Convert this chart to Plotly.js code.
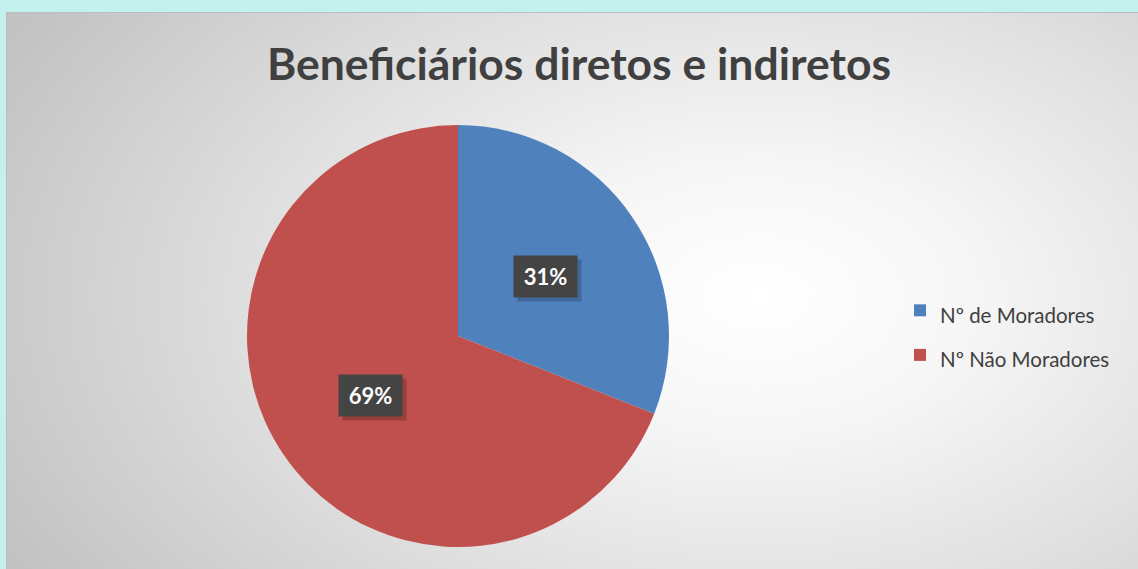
<!DOCTYPE html>
<html>
<head>
<meta charset="utf-8">
<script src="https://cdn.plot.ly/plotly-3.0.1.min.js"></script>
<style>
  html, body { margin:0; padding:0; width:1138px; height:569px; overflow:hidden; background:#c4f1ee; }
  #frame { position:absolute; left:6px; top:12px; width:1140px; height:570px;
    border:1px solid #bdbdbd; box-sizing:border-box;
    background: radial-gradient(ellipse 75% 95% at 66% 50%, #ffffff 0%, #f6f6f6 25%, #e2e2e2 55%, #c2c2c2 100%); }
  #chart { position:absolute; left:0; top:0; width:1138px; height:569px; }
</style>
</head>
<body>
<div id="frame"></div>
<div id="chart"></div>
<script>
const categories = ["Nº de Moradores", "Nº Não Moradores"];
const values = [31, 69];
const colors = ["#4f81bd", "#c0504d"];

const W = 1138, H = 569;
const cxPx = 458, cyPx = 336, rPx = 211;

const total = values.reduce((a, b) => a + b, 0);
const annotations = [];
let cum = 0;
values.forEach((v, i) => {
  const mid = (cum + v / 2) / total * 2 * Math.PI;
  cum += v;
  const xp = cxPx + 0.5 * rPx * Math.sin(mid);
  const yp = cyPx - 0.5 * rPx * Math.cos(mid);
  const txt = Math.round(v / total * 100) + "%";
  // shadow
  annotations.push({
    xref: "paper", yref: "paper", x: xp / W, y: 1 - yp / H,
    xanchor: "center", yanchor: "middle",
    text: " ", showarrow: false, width: 63, height: 41, borderpad: 0,
    bgcolor: "rgba(0,0,0,0.2)", xshift: 4, yshift: -4
  });
  annotations.push({
    xref: "paper", yref: "paper", x: xp / W, y: 1 - yp / H,
    xanchor: "center", yanchor: "middle",
    text: "<b>" + txt + "</b>", showarrow: false, width: 63, height: 41, borderpad: 0,
    bgcolor: "#444444", font: { family: "Lato, 'Open Sans', sans-serif", size: 22, color: "#ffffff" }
  });
});

const legendLabels = categories.map(c => '<span style="font-size:20.5px">' + c + '</span>');

const data = [{
  type: "pie",
  labels: legendLabels,
  values: values,
  marker: { colors: colors, line: { width: 0 } },
  sort: false,
  direction: "clockwise",
  rotation: 0,
  textinfo: "none",
  hoverinfo: "label+percent",
  domain: { x: [(cxPx - rPx) / W, (cxPx + rPx) / W], y: [1 - (cyPx + rPx) / H, 1 - (cyPx - rPx) / H] }
}];

const layout = {
  width: W, height: H,
  margin: { l: 0, r: 0, t: 0, b: 0 },
  paper_bgcolor: "rgba(0,0,0,0)",
  plot_bgcolor: "rgba(0,0,0,0)",
  title: {
    text: "<b>Beneficiários diretos e indiretos</b>",
    font: { family: "Lato, 'Open Sans', sans-serif", size: 44.5, color: "#404040" },
    x: 579 / W, xanchor: "center", y: 1 - 64 / H, yanchor: "middle"
  },
  showlegend: true,
  legend: {
    x: 900 / W, xanchor: "left", y: 1 - 333 / H, yanchor: "middle",
    bgcolor: "rgba(0,0,0,0)",
    font: { family: "Lato, 'Open Sans', sans-serif", size: 32, color: "#404040" },
    itemwidth: 30
  },
  annotations: annotations
};

Plotly.newPlot("chart", data, layout, { displayModeBar: false, staticPlot: true });
</script>
</body>
</html>
